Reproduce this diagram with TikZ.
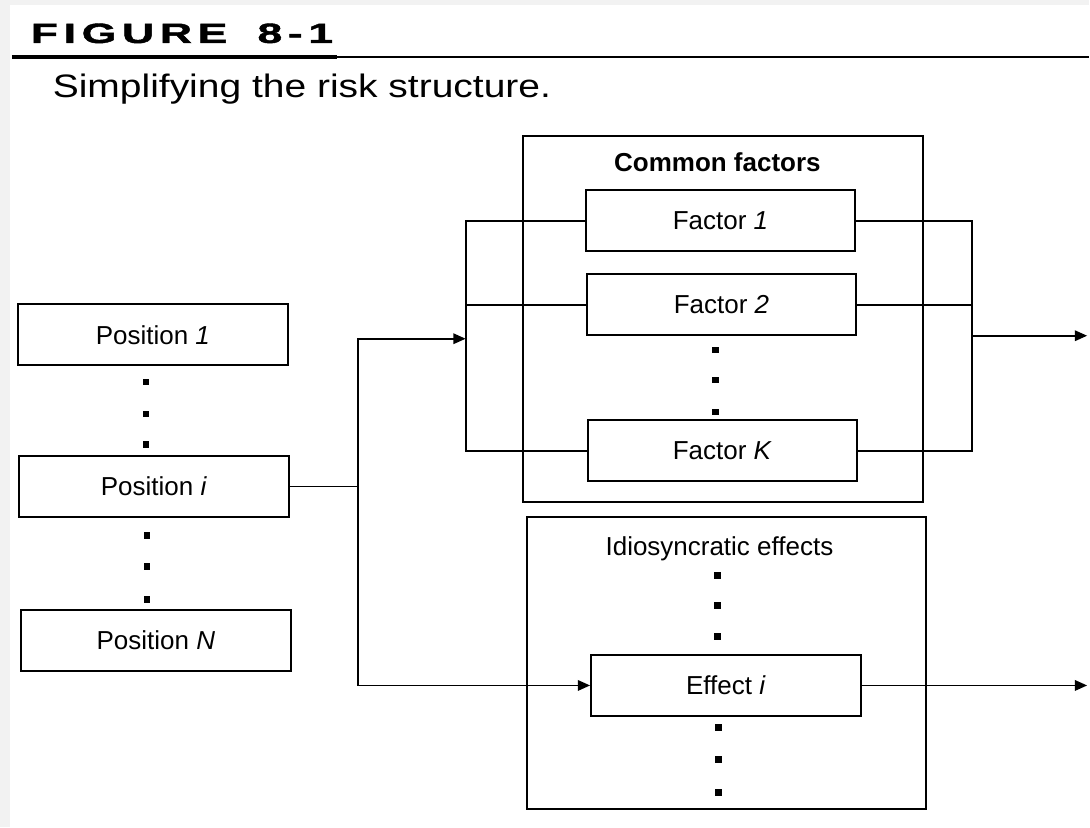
\documentclass[tikz,border=0pt]{standalone}
\usepackage{fontspec}
\setmainfont{Liberation Sans}
\newfontfamily\titlefont[FakeStretch=1.6,LetterSpace=20,BoldFeatures={FakeBold=1.5}]{Liberation Sans}
\newfontfamily\capfont[FakeStretch=1.2]{Liberation Sans}
\usetikzlibrary{arrows.meta,positioning}

\begin{document}
\begin{tikzpicture}[x=0.02cm,y=-0.02cm,line width=1pt,
  box/.style={draw,line width=1.1pt,minimum width=5.4cm,minimum height=1.22cm,inner sep=0pt,font=\fontsize{14.8}{17}\selectfont},
  group/.style={draw,line width=1.1pt,inner sep=0pt},
  dot/.style={fill,rectangle,inner sep=0pt,minimum size=3.6pt},
  txt/.style={inner sep=0pt,font=\fontsize{14.8}{17}\selectfont},
  arr/.style={-{Triangle[length=7pt,width=6pt]}}]

% paper
\fill[black!5] (0,0) rectangle (1090,828);
\fill[white] (10,5) rectangle (1090,828);

% heading
\node[anchor=base west,inner sep=0pt] (title) at (30,43) {\fontsize{15.9}{18}\selectfont\titlefont\bfseries FIGURE\hspace{0.24cm} 8-1};
\draw[line width=2.2pt] (12,57) -- (337,57);
\draw[line width=1pt] (337,57) -- (1090,57);
\node[anchor=base west,inner sep=0pt] (caption) at (52,98) {\fontsize{18.5}{21}\selectfont\capfont Simplifying the risk structure.};

% position nodes
\node[box] (pos 1) at (153,335) {Position \textit{1}};
\node[box] (pos i) at (154,487) {Position \textit{i}};
\node[box] (pos N) at (156,641) {Position \textit{N}};

\node[dot] (dot a1) at (146,382) {};
\node[dot] (dot a2) at (146,414) {};
\node[dot] (dot a3) at (146,445) {};
\node[dot] (dot b1) at (147,536) {};
\node[dot] (dot b2) at (147,567) {};
\node[dot] (dot b3) at (147,600) {};

% common factors group
\node[group,minimum width=8.02cm,minimum height=7.32cm] (common) at (723.5,319) {};
\node[txt] (common title) at (718,162) {\bfseries Common factors};
\node[box] (factor 1) at (721,221) {Factor \textit{1}};
\node[box] (factor 2) at (722,305) {Factor \textit{2}};
\node[box] (factor K) at (723,451) {Factor \textit{K}};

\node[dot] (dot c1) at (716,350) {};
\node[dot] (dot c2) at (716,380) {};
\node[dot] (dot c3) at (716,412) {};

% idiosyncratic group
\node[group,minimum width=8cm,minimum height=5.86cm] (idio) at (727,663.5) {};
\node[txt] (idio title) at (720,549) {Idiosyncratic effects};
\node[box] (effect i) at (726.5,686) {Effect \textit{i}};

\node[dot] (dot d1) at (718,576) {};
\node[dot] (dot d2) at (718,606) {};
\node[dot] (dot d3) at (718,637) {};
\node[dot] (dot e1) at (719,728) {};
\node[dot] (dot e2) at (719,760) {};
\node[dot] (dot e3) at (719,793) {};

% split from position i
\coordinate (split) at (358,487);
\coordinate (bus in) at (466,339);
\coordinate (bus out) at (973,336);
\coordinate (out 1) at (1088,336);
\coordinate (out 2) at (1088,686);

\draw (pos i) -- (split);
\draw[arr] (split) |- (bus in);
\draw[arr] (split) |- (effect i);

% factor buses
\draw (factor 1.west) -| (bus in) |- (factor K.west);
\draw (factor 2.west) -- (factor 2.west -| bus in);
\draw (factor 1.east) -| (bus out) |- (factor K.east);
\draw (factor 2.east) -- (factor 2.east -| bus out);

% outputs
\draw[arr] (bus out) -- (out 1);
\draw[arr] (effect i) -- (out 2);

\end{tikzpicture}
\end{document}
